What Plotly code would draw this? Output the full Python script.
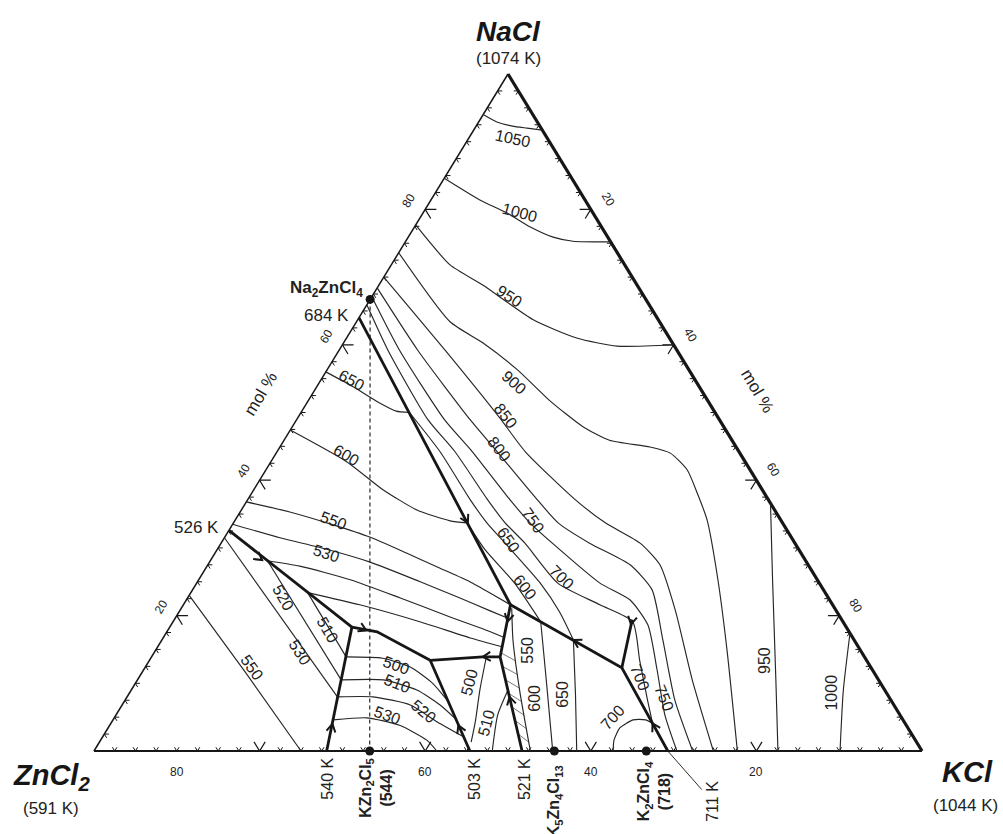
import math
import plotly.graph_objects as go

# Compositions are given as (KCl mol %, NaCl mol %); ZnCl2 is the balance.

# ---------------- liquidus isotherms ----------------
# NaCl-rich (NaCl-KCl solid solution) field
iso_1050 = [(0, 94.0), (2.2, 92.9), (4.4, 92.3), (6.3, 92.0), (8.3, 91.7)]
iso_1000 = [(0, 84.6), (5.9, 81.4), (10.1, 79.5), (14.0, 77.4), (17.5, 75.9), (20.2, 75.3), (24.8, 75.2)]
iso_950_upper = [(0, 77.7), (7.1, 71.8), (12.6, 68.8), (21.2, 63.7), (27.8, 61.0), (33.3, 59.8), (40.0, 60.0)]
iso_900 = [(0, 73.6), (11.3, 63.4), (16.8, 60.3), (23.0, 56.3), (29.1, 51.8), (35.1, 47.9), (39.3, 45.9),
           (44.7, 44.9), (47.6, 44.0), (50.9, 41.5), (53.8, 38.1), (57.0, 34.1), (62.7, 25.3), (69.0, 14.9), (77.7, 0)]
iso_850 = [(0, 70.0), (12.8, 59.2), (24.4, 49.2), (30.0, 44.2), (39.6, 37.1), (44.9, 33.7), (50.6, 30.7),
           (54.6, 27.5), (59.8, 20.8), (67.0, 10.5), (74.8, 0)]
iso_800 = [(0, 68.4), (9.5, 59.2), (21.0, 48.9), (26.6, 44.2), (35.0, 37.1), (39.2, 33.7), (44.5, 30.7),
           (51.0, 27.5), (55.5, 23.8), (60.5, 16.4), (66.4, 7.5), (72.3, 0)]
iso_750 = [(0, 67.1), (7.3, 59.2), (17.9, 48.9), (23.6, 44.2), (31.7, 37.1), (35.8, 33.7), (40.0, 30.7),
           (48.7, 24.8), (53.6, 22.3), (57.6, 18.6), (62.0, 12.0), (66.3, 5.3), (70.4, 0)]
iso_700 = [(0, 65.9), (5.9, 59.2), (15.9, 48.9), (21.5, 44.2), (29.0, 37.1), (32.8, 33.7), (36.7, 30.7),
           (43.6, 24.8), (50.3, 21.6), (55.5, 19.1), (59.2, 13.4), (63.1, 7.5), (65.4, 4.1)]
iso_700_k2 = [(65.4, 4.1), (64.3, 4.6), (62.8, 4.6), (61.8, 3.4), (62.0, 1.6), (62.7, 0)]
iso_650 = [(13.1, 50.0), (19.7, 44.2), (26.9, 37.1), (30.6, 33.7), (34.3, 30.7), (41.5, 24.8), (46.0, 20.5), (49.7, 16.4)]
iso_650_low = [(49.7, 16.4), (54.0, 8.3), (58.3, 0)]
iso_600 = [(28.2, 33.7), (32.4, 29.7), (38.4, 24.8), (44.4, 19.1)]
iso_600_low = [(44.4, 19.1), (48.1, 12.7), (51.9, 6.1), (55.4, 0)]
iso_550_low = [(39.9, 21.1), (42.4, 16.4), (46.9, 9.0), (52.7, 0)]
iso_950_lower = [(63.4, 36.6), (69.3, 25.3), (77.1, 10.5), (82.6, 0)]
iso_1000_lower = [(82.6, 17.4), (86.0, 9.0), (90.1, 0)]

# Na2ZnCl4 field
iso_650_nz = [(0, 56.0), (4.4, 53.8), (8.8, 51.4), (11.4, 50.2), (13.1, 50.0)]
iso_600_nz = [(0, 47.4), (9.2, 42.7), (15.6, 38.6), (21.2, 35.6), (26.0, 34.0), (28.2, 33.7)]
iso_550_nz = [(0, 36.8), (6.0, 35.3), (12.2, 33.4), (17.5, 31.6), (23.2, 29.2), (28.3, 27.0), (32.9, 25.0),
              (37.0, 22.9), (39.5, 21.6)]
iso_530_nz = [(0, 33.5), (6.7, 31.5), (13.2, 29.8), (19.4, 27.9), (26.9, 25.0), (32.9, 22.6), (37.5, 20.7), (40.2, 19.6)]
iso_520_nz = [(6.9, 28.1), (11.2, 27.3), (18.3, 25.3), (25.7, 22.6), (33.1, 19.8), (37.5, 18.2), (41.1, 16.8)]
iso_510_nz = [(14.1, 23.4), (21.3, 21.6), (29.8, 19.1), (37.1, 16.7), (41.6, 15.4)]

# ZnCl2 field
iso_550_zn = [(0, 23.0), (12.4, 11.7), (25.0, 0)]
iso_530_zn = [(0, 31.5), (25.4, 8.0)]
iso_520_zn = [(6.9, 28.1), (24.6, 10.5)]
iso_510_zn = [(14.1, 23.4), (23.5, 13.9)]

# KZn2Cl5 field
iso_500_kz = [(23.5, 13.9), (28.0, 13.7), (32.0, 12.4), (35.9, 10.0), (38.9, 7.5)]
iso_510_kz = [(24.6, 10.5), (29.7, 10.5), (34.5, 9.0), (38.4, 6.8), (41.5, 4.6)]
iso_520_kz = [(25.4, 8.0), (29.7, 8.0), (34.8, 6.8), (39.3, 4.3), (43.6, 2.1)]
iso_530_kz = [(26.6, 4.6), (30.5, 4.9), (35.0, 3.8), (39.4, 1.6), (41.4, 0)]

# between the 503 K and 521 K eutectics
iso_500_e = [(40.5, 13.7), (42.1, 9.0), (43.9, 4.3), (44.9, 1.3)]
iso_510_e = [(45.5, 9.0), (46.1, 5.3), (48.1, 0)]

isotherms = [iso_1050, iso_1000, iso_950_upper, iso_900, iso_850, iso_800, iso_750, iso_700, iso_700_k2,
             iso_650, iso_650_low, iso_600, iso_600_low, iso_550_low, iso_950_lower, iso_1000_lower,
             iso_650_nz, iso_600_nz, iso_550_nz, iso_530_nz, iso_520_nz, iso_510_nz,
             iso_550_zn, iso_530_zn, iso_520_zn, iso_510_zn,
             iso_500_kz, iso_510_kz, iso_520_kz, iso_530_kz, iso_500_e, iso_510_e]

# ---------------- primary-field boundaries ----------------
bnd_nacl_na2 = [(0, 64.0), (39.5, 21.6)]
bnd_526 = [(0, 32.6), (22.0, 18.3)]
bnd_540 = [(22.0, 18.3), (28.1, 0)]
bnd_e1_e2 = [(22.0, 18.3), (25.4, 17.6), (33.9, 13.4)]
bnd_e2_e3 = [(33.9, 13.4), (40.0, 13.9), (42.1, 13.9)]
bnd_503 = [(33.9, 13.4), (45.4, 0)]
bnd_521 = [(39.5, 21.6), (42.1, 13.9), (51.7, 0)]
bnd_711 = [(39.5, 21.6), (49.7, 16.4), (57.6, 12.3), (69.3, 0)]
bnd_spur = [(57.6, 12.3), (55.3, 19.4)]
boundaries = [bnd_nacl_na2, bnd_526, bnd_540, bnd_e1_e2, bnd_e2_e3, bnd_503, bnd_521, bnd_711, bnd_spur]

# shaded sliver along the 521 K valley (NaCl levels of the hatch strokes)
hatch_levels = [14.5, 12.5, 10.5, 8.5, 6.5, 4.5, 2.5]

# direction arrows on boundaries: (position, pointing toward)
boundary_arrows = [
    ((28.3, 33.7), (39.5, 21.6)),
    ((6.2, 28.2), (22.0, 18.3)),
    ((26.8, 4.0), (22.0, 18.3)),
    ((24.0, 17.8), (33.9, 13.4)),
    ((40.0, 13.9), (33.9, 13.4)),
    ((42.1, 3.8), (33.9, 13.4)),
    ((40.4, 19.1), (42.1, 13.9)),
    ((46.2, 8.0), (42.1, 13.9)),
    ((49.7, 16.4), (39.5, 21.6)),
    ((65.4, 4.1), (57.6, 12.3)),
    ((55.5, 18.7), (57.6, 12.3)),
]

# compounds and binary invariant points
cmp_na2zncl4 = (0, 66.7)
cmp_kzn2cl5 = (33.3, 0)
cmp_k5zn4cl13 = (55.6, 0)
cmp_k2zncl4 = (66.7, 0)
pt_526 = (0, 32.6)
pt_540 = (28.1, 0)
pt_503 = (45.4, 0)
pt_521 = (51.7, 0)
pt_711 = (69.3, 0)

# isotherm labels: text, composition, text angle
iso_labels = [
    ("1050", (5.3, 90.5), 12), ("1000", (11.6, 79.6), 15), ("950", (16.6, 67.2), 33),
    ("900", (23.5, 54.5), 42), ("850", (24.9, 49.5), 52), ("800", (26.7, 44.6), 52),
    ("750", (36.0, 34.1), 55), ("650", (34.4, 31.2), 55), ("700", (43.7, 25.6), 45),
    ("600", (40.0, 24.1), 52), ("650", (3.8, 54.7), 28), ("600", (8.7, 43.7), 30),
    ("550", (11.9, 34.0), 20), ("530", (13.5, 29.2), 18), ("520", (11.5, 22.7), 60),
    ("510", (19.2, 17.9), 60), ("530", (17.6, 14.5), 58), ("550", (12.9, 12.4), 55),
    ("500", (30.2, 12.7), 20), ("510", (31.6, 10.0), 22), ("520", (36.9, 5.8), 40),
    ("530", (32.8, 5.3), 20), ("500", (40.3, 10.2), -75), ("510", (45.3, 4.1), -75),
    ("550", (44.8, 14.9), -90), ("600", (49.3, 7.8), -90), ("650", (52.5, 8.3), -90),
    ("700", (60.1, 5.0), -48), ("700", (60.5, 10.9), 68), ("750", (65.0, 7.8), 68),
    ("950", (74.3, 13.4), -90), ("1000", (84.8, 8.6), -90),
]

edge_tick_labels = [20, 40, 60, 80]
edge_ticks = [2.5 * i for i in range(1, 40)]
# ZnCl2 scale numbers along the base and the KCl content they sit under
base_scale_labels = [(80, 10.0), (60, 40.0), (40, 60.0), (20, 80.0)]

# ---------------- drawing frame ----------------
FONT = "Arial, 'Liberation Sans', Helvetica, sans-serif"
INK = "#161616"
FIG_W, FIG_H = 1003, 834
X_RANGE = [-0.1135, 1.0978]
Y_RANGE = [-0.1226, 1.1093]
SX = FIG_W / (X_RANGE[1] - X_RANGE[0])
SY = FIG_H / (Y_RANGE[1] - Y_RANGE[0])


def to_xy(k, na):
    return (k + na / 2.0) / 100.0, na / 100.0


def path_xy(pts):
    xs, ys = [], []
    for k, na in pts:
        x, y = to_xy(k, na)
        xs.append(x)
        ys.append(y)
    return xs, ys


def k_at(pts, na):
    """KCl content of a polyline at a given NaCl level (linear)."""
    for (k0, n0), (k1, n1) in zip(pts[:-1], pts[1:]):
        lo, hi = min(n0, n1), max(n0, n1)
        if lo <= na <= hi and n0 != n1:
            return k0 + (k1 - k0) * (na - n0) / (n1 - n0)
    return None


fig = go.Figure()


def add_path(xs, ys, width, color=INK, dash=None, smooth=False):
    line = dict(color=color, width=width)
    if dash:
        line["dash"] = dash
    if smooth:
        line["shape"] = "spline"
        line["smoothing"] = 0.6
    fig.add_trace(go.Scatter(x=xs, y=ys, mode="lines", line=line, hoverinfo="skip"))


# triangle edges
add_path(*path_xy([(0, 0), (100, 0)]), 2.0)
add_path(*path_xy([(0, 0), (0, 100)]), 1.5)
add_path(*path_xy([(100, 0), (0, 100)]), 3.2)

# edge ticks: a small V along the two grid directions at each tick
for size_set, arm, wid in ((False, 0.55, 1.0), (True, 1.35, 1.2)):
    xs, ys = [], []
    for v in edge_ticks:
        if (v in edge_tick_labels) != size_set:
            continue
        t = arm
        for seg in (
            [(v, t), (v, 0), (v - t, t)],                      # base
            [(t, v), (0, v), (t, v - t)],                      # ZnCl2-NaCl edge
            [(100 - v - t, v), (100 - v, v), (100 - v, v - t)],  # NaCl-KCl edge
        ):
            sx, sy = path_xy(seg)
            xs += sx + [None]
            ys += sy + [None]
    add_path(xs, ys, wid)

# join line Na2ZnCl4 - KZn2Cl5
add_path(*path_xy([cmp_na2zncl4, cmp_kzn2cl5]), 1.1, dash="4px,3px")

# hatch strokes between the 521 K valley and the neighbouring 550 K isotherm
hx, hy = [], []
for na in hatch_levels:
    k_left = k_at(bnd_521, na)
    k_right = k_at(iso_550_low, na - 1.2)
    if k_left is None or k_right is None:
        continue
    sx, sy = path_xy([(k_left, na), (k_right, na - 1.2)])
    hx += sx + [None]
    hy += sy + [None]
add_path(hx, hy, 0.8, color="#555555")

# isotherms
for pts in isotherms:
    add_path(*path_xy(pts), 1.15, color="#262626", smooth=len(pts) > 2)

# boundaries
for pts in boundaries:
    add_path(*path_xy(pts), 2.8)


def chevron(p, q, length=9.0, half=30.0):
    x0, y0 = to_xy(*p)
    x1, y1 = to_xy(*q)
    dx, dy = (x1 - x0) * SX, (y1 - y0) * SY
    n = math.hypot(dx, dy)
    ux, uy = dx / n, dy / n
    ends = []
    for s in (1, -1):
        a = math.radians(180 + s * half)
        rx = ux * math.cos(a) - uy * math.sin(a)
        ry = ux * math.sin(a) + uy * math.cos(a)
        ends.append((x0 + rx * length / SX, y0 + ry * length / SY))
    xs = [ends[0][0], x0, ends[1][0], None]
    ys = [ends[0][1], y0, ends[1][1], None]
    return xs, ys


ax_, ay_ = [], []
for p, q in boundary_arrows:
    cx, cy = chevron(p, q)
    ax_ += cx
    ay_ += cy
add_path(ax_, ay_, 2.0)

# compound dots
dots = [cmp_na2zncl4, cmp_kzn2cl5, cmp_k5zn4cl13, cmp_k2zncl4]
dx_, dy_ = path_xy(dots)
fig.add_trace(go.Scatter(x=dx_, y=dy_, mode="markers", marker=dict(color=INK, size=9), hoverinfo="skip"))

annotations = []


def note(text, comp, size=15, angle=0, xshift=0, yshift=0, xanchor="center", yanchor="middle", color="#222222", **kw):
    x, y = to_xy(*comp)
    d = dict(x=x, y=y, xref="x", yref="y", text=text, showarrow=False, textangle=angle,
             font=dict(family=FONT, size=size, color=color), xshift=xshift, yshift=yshift,
             xanchor=xanchor, yanchor=yanchor)
    d.update(kw)
    annotations.append(d)


for txt, comp, ang in iso_labels:
    note(txt, comp, size=16, angle=ang)

# edge scale numbers
for v in edge_tick_labels:
    note(str(v), (0, v), size=12, angle=-59, xshift=-16, yshift=9)
    note(str(v), (v, 100 - v), size=12, angle=59, xshift=17, yshift=10)
for v, k in base_scale_labels:
    note(str(v), (k, 0), size=12, yshift=-21)
note("mol %", (0, 50), size=17, angle=-59, xshift=-40, yshift=19)
note("mol %", (50, 50), size=17, angle=59, xshift=42, yshift=22)

# corner components
note("<b><i>NaCl</i></b>", (0, 100), size=28, yshift=43, color=INK)
note("(1074 K)", (0, 100), size=17, yshift=16)
note("<b><i>ZnCl<sub>2</sub></i></b>", (0, 0), size=29, xshift=-42, yshift=-26, color=INK)
note("(591 K)", (0, 0), size=17, xshift=-43, yshift=-57)
note("<b><i>KCl</i></b>", (100, 0), size=29, xshift=45, yshift=-21, color=INK)
note("(1044 K)", (100, 0), size=17, xshift=43, yshift=-54)

# invariant points and compounds
note("<b>Na<sub>2</sub>ZnCl<sub>4</sub></b>", cmp_na2zncl4, size=17, xanchor="right", xshift=-5, yshift=10)
note("684 K", cmp_na2zncl4, size=17, xanchor="right", xshift=-19, yshift=-16)
note("526 K", pt_526, size=17, xanchor="right", xshift=-8, yshift=3)
note("540 K", pt_540, size=16, angle=-90, yanchor="top", yshift=-5)
note("<b>KZn<sub>2</sub>Cl<sub>5</sub><br>(544)</b>", cmp_kzn2cl5, size=16, angle=-90, yanchor="top", yshift=-5, xshift=6)
note("503 K", pt_503, size=16, angle=-90, yanchor="top", yshift=-5, xshift=4)
note("521 K", pt_521, size=16, angle=-90, yanchor="top", yshift=-5, xshift=2)
note("<b>K<sub>5</sub>Zn<sub>4</sub>Cl<sub>13</sub></b>", cmp_k5zn4cl13, size=16, angle=-90, yanchor="top", yshift=-12)
note("<b>K<sub>2</sub>ZnCl<sub>4</sub><br>(718)</b>", cmp_k2zncl4, size=16, angle=-90, yanchor="top", yshift=-8, xshift=8)
x711, y711 = to_xy(*pt_711)
annotations.append(dict(x=x711, y=y711, xref="x", yref="y", text="711 K", textangle=-90,
                        showarrow=True, arrowhead=0, arrowwidth=0.9, arrowcolor=INK, ax=44, ay=50,
                        font=dict(family=FONT, size=16, color="#222222")))

fig.update_layout(
    width=FIG_W, height=FIG_H, margin=dict(l=0, r=0, t=0, b=0),
    paper_bgcolor="white", plot_bgcolor="white", showlegend=False,
    xaxis=dict(range=X_RANGE, visible=False, fixedrange=True),
    yaxis=dict(range=Y_RANGE, visible=False, fixedrange=True),
    annotations=annotations,
)

fig.write_html("out.html")
